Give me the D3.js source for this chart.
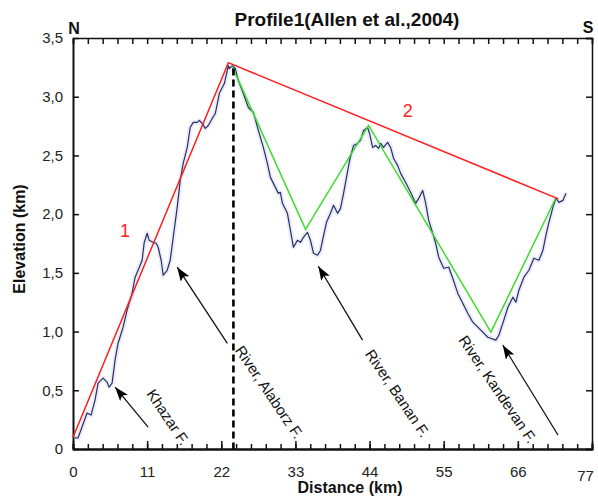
<!DOCTYPE html>
<html>
<head>
<meta charset="utf-8">
<script src="https://cdn.jsdelivr.net/npm/d3@7"></script>
<style>
  html, body { margin: 0; padding: 0; background: #fff; }
  svg { display: block; font-family: Arial, "Liberation Sans", sans-serif; }
</style>
</head>
<body>
<svg id="chart" width="598" height="497"></svg>
<script>
// ---------- data ----------
const titleText = "Profile1(Allen et al.,2004)";
const xTitle = "Distance (km)";
const yTitle = "Elevation (km)";
const distTicks = [0, 11, 22, 33, 44, 55, 66, 77];
const distTickLabels = ["0", "11", "22", "33", "44", "55", "66", "77"];
const distMinorTicks = d3.range(0, 77.01, 2.2);
const elevTicks = [0, 0.5, 1.0, 1.5, 2.0, 2.5, 3.0, 3.5];
const elevTickLabels = ["0", "0,5", "1,0", "1,5", "2,0", "2,5", "3,0", "3,5"];

// topographic profile (distance km, elevation km)
const profileDist = [0.30,0.74,1.34,2.08,2.68,3.27,3.72,4.46,5.05,5.35,5.80,6.24,6.69,7.43,8.03,8.77,9.22,9.66,10.26,10.55,
  11.00,11.30,11.89,12.34,12.64,13.08,13.38,13.97,14.42,14.87,15.46,15.91,16.35,16.95,17.39,17.84,18.43,18.73,19.18,19.62,
  20.07,20.66,21.11,21.41,21.70,22.15,22.45,22.89,23.04,23.19,23.64,24.08,24.53,25.27,26.02,26.76,27.50,28.24,28.84,29.29,
  29.88,30.47,30.77,31.07,31.81,32.26,32.70,33.30,33.74,34.19,34.79,35.23,35.68,36.27,36.72,37.02,37.61,38.20,38.65,39.25,
  39.69,40.14,40.58,41.03,41.62,42.22,42.66,43.11,43.70,44.00,44.45,44.89,45.34,45.64,46.08,46.68,47.12,47.57,48.16,48.61,
  49.35,50.10,50.84,51.29,51.88,52.33,52.77,53.37,53.81,54.26,55.00,55.75,56.34,57.08,57.83,58.57,59.31,60.21,61.55,62.73,
  63.18,63.92,64.52,65.26,65.71,66.15,66.90,67.64,68.38,69.12,69.72,70.16,70.61,71.20,71.65,72.10,72.69,73.14];
const profileElev = [0.094,0.094,0.187,0.306,0.289,0.417,0.561,0.604,0.570,0.527,0.561,0.757,0.901,1.037,1.182,1.327,1.463,1.522,1.607,1.752,
  1.837,1.777,1.760,1.752,1.718,1.607,1.480,1.522,1.607,1.803,2.058,2.287,2.432,2.568,2.738,2.781,2.781,2.798,2.772,2.730,
  2.755,2.815,2.857,2.942,3.027,3.078,3.112,3.223,3.265,3.240,3.265,3.240,3.138,3.027,2.908,2.866,2.713,2.568,2.432,2.313,
  2.245,2.177,2.185,2.092,2.007,1.862,1.718,1.777,1.760,1.803,1.845,1.777,1.667,1.650,1.692,1.777,1.930,2.007,2.075,2.007,
  2.049,2.177,2.313,2.457,2.585,2.602,2.628,2.713,2.738,2.687,2.568,2.585,2.560,2.602,2.568,2.611,2.568,2.474,2.415,2.347,
  2.270,2.185,2.092,2.134,2.202,2.092,1.947,1.837,1.752,1.633,1.539,1.548,1.454,1.327,1.241,1.156,1.080,1.029,0.952,0.927,
  0.969,1.097,1.207,1.293,1.250,1.352,1.463,1.522,1.624,1.607,1.692,1.820,1.930,2.058,2.134,2.100,2.117,2.177];

// red envelope (segments 1 and 2)
const envelopeDist = [0, 23.05, 72.0];
const envelopeElev = [0.10, 3.29, 2.13];
const envelopeLabels = ["1", "2"];
const envelopeLabelDist = [7.73, 49.65];
const envelopeLabelElev = [1.86, 2.88];

// green valley lines
const valleyDist = [23.6, 34.5, 43.85, 62.0, 71.65];
const valleyElev = [3.26, 1.87, 2.755, 0.995, 2.14];

// dashed divide line
const divideDist = 23.8;
const divideTop = 3.24;

// fault / river annotations
const faultLabels = ["Khazar F.", "River, Alaborz F.", "River, Banan F.", "River, Kandevan F."];
const faultLabelDist = [14.12, 29.14, 48.16, 63.03];
const faultLabelElev = [0.272, 0.485, 0.476, 0.510];
const arrowTailDist = [11.15, 22.9, 42.96, 71.95];
const arrowTailElev = [0.187, 0.90, 0.927, 0.119];
const arrowHeadDist = [6.24, 15.46, 36.4, 63.77];
const arrowHeadElev = [0.527, 1.548, 1.556, 0.884];

// ---------- chart ----------
const svg = d3.select("#chart");
const mLeft = 73, mRight = 592, mTop = 38, mBottom = 449;
const x = d3.scaleLinear().domain([0, 77]).range([mLeft, mRight]);
const y = d3.scaleLinear().domain([0, 3.5]).range([mBottom, mTop]);

svg.append("rect").attr("width", 598).attr("height", 497).attr("fill", "#fff");

const defs = svg.append("defs");
defs.append("marker").attr("id", "ah")
  .attr("viewBox", "0 0 14 10").attr("refX", 14).attr("refY", 5)
  .attr("markerWidth", 14).attr("markerHeight", 10).attr("markerUnits", "userSpaceOnUse")
  .attr("orient", "auto")
  .append("path").attr("d", "M0,0 L14,5 L0,10 L3,5 Z").attr("fill", "#000");

// axes
function styleAxis(g) {
  g.selectAll(".domain").attr("stroke", "#111").attr("stroke-width", 2);
  g.selectAll(".tick line").attr("stroke", "#111").attr("stroke-width", 1.5);
  g.selectAll(".tick text").attr("fill", "#222").style("font-size", "15px")
    .style("font-family", "Arial, 'Liberation Sans', sans-serif");
}
// bottom major
const gB = svg.append("g").attr("transform", `translate(0,${mBottom})`)
  .call(d3.axisBottom(x).tickValues(distTicks).tickSizeInner(-8).tickSizeOuter(0)
    .tickPadding(14).tickFormat((d, i) => distTickLabels[i]));
styleAxis(gB);
gB.selectAll(".tick text").attr("dy", "0.9em");
gB.selectAll(".tick text").filter(d => d === 77).attr("dx", -7).attr("dy", "1.2em");
// bottom minor
const gBm = svg.append("g").attr("transform", `translate(0,${mBottom})`)
  .call(d3.axisBottom(x).tickValues(distMinorTicks).tickSize(-5).tickFormat(""));
styleAxis(gBm);
// top
const gT = svg.append("g").attr("transform", `translate(0,${mTop})`)
  .call(d3.axisTop(x).tickValues(distMinorTicks).tickSize(-6).tickFormat(""));
styleAxis(gT);
gT.selectAll(".domain").attr("stroke-width", 1.5);
// left
const gL = svg.append("g").attr("transform", `translate(${mLeft},0)`)
  .call(d3.axisLeft(y).tickValues(elevTicks).tickSizeInner(-6).tickSizeOuter(0)
    .tickPadding(10).tickFormat((d, i) => elevTickLabels[i]));
styleAxis(gL);
// right
const gR = svg.append("g").attr("transform", `translate(${mRight},0)`)
  .call(d3.axisRight(y).tickValues(elevTicks).tickSize(-6).tickFormat(""));
styleAxis(gR);
gR.selectAll(".domain").attr("stroke-width", 1.5);

// profile
const profile = profileDist.map((d, i) => [d, profileElev[i]]);
const line = d3.line().x(d => x(d[0])).y(d => y(d[1]));
svg.append("path").datum(profile).attr("d", line)
  .attr("fill", "none").attr("stroke", "#e1e6f3").attr("stroke-width", 5)
  .attr("stroke-linejoin", "round").attr("opacity", 0.7);
svg.append("path").datum(profile).attr("d", line)
  .attr("fill", "none").attr("stroke", "#2a2e66").attr("stroke-width", 1.2)
  .attr("stroke-linejoin", "round");

// green valley lines
svg.append("path").datum(valleyDist.map((d, i) => [d, valleyElev[i]])).attr("d", line)
  .attr("fill", "none").attr("stroke", "#3ddc2e").attr("stroke-width", 1.5);

// red envelope
svg.append("path").datum(envelopeDist.map((d, i) => [d, envelopeElev[i]])).attr("d", line)
  .attr("fill", "none").attr("stroke", "#ff1e1e").attr("stroke-width", 1.5);
envelopeLabels.forEach((t, i) => {
  svg.append("text").attr("x", x(envelopeLabelDist[i])).attr("y", y(envelopeLabelElev[i]))
    .attr("text-anchor", "middle").attr("dominant-baseline", "central")
    .attr("fill", "#ff1e1e").style("font-size", "18px").text(t);
});

// dashed divide
svg.append("line").attr("x1", x(divideDist)).attr("x2", x(divideDist))
  .attr("y1", y(divideTop)).attr("y2", y(0))
  .attr("stroke", "#000").attr("stroke-width", 2.6).attr("stroke-dasharray", "7,4");

// arrows
faultLabels.forEach((t, i) => {
  svg.append("line")
    .attr("x1", x(arrowTailDist[i])).attr("y1", y(arrowTailElev[i]))
    .attr("x2", x(arrowHeadDist[i])).attr("y2", y(arrowHeadElev[i]))
    .attr("stroke", "#111").attr("stroke-width", 1.3).attr("marker-end", "url(#ah)");
  const cx = x(faultLabelDist[i]), cy = y(faultLabelElev[i]);
  svg.append("text").attr("transform", `translate(${cx},${cy}) rotate(56)`)
    .attr("text-anchor", "middle").attr("dominant-baseline", "central")
    .attr("fill", "#111").style("font-size", "15px").text(t);
});

// titles
svg.append("text").attr("x", 347).attr("y", 26).attr("text-anchor", "middle")
  .style("font-size", "19px").style("font-weight", "bold").attr("fill", "#111").text(titleText);
svg.append("text").attr("x", 350).attr("y", 493).attr("text-anchor", "middle")
  .style("font-size", "16px").style("font-weight", "bold").attr("fill", "#111").text(xTitle);
svg.append("text").attr("transform", "translate(25,239) rotate(-90)").attr("text-anchor", "middle")
  .style("font-size", "16px").style("font-weight", "bold").attr("fill", "#111").text(yTitle);
svg.append("text").attr("x", 74).attr("y", 34).attr("text-anchor", "middle")
  .style("font-size", "16px").style("font-weight", "bold").attr("fill", "#111").text("N");
svg.append("text").attr("x", 588).attr("y", 33).attr("text-anchor", "middle")
  .style("font-size", "16px").style("font-weight", "bold").attr("fill", "#111").text("S");
</script>
</body>
</html>
